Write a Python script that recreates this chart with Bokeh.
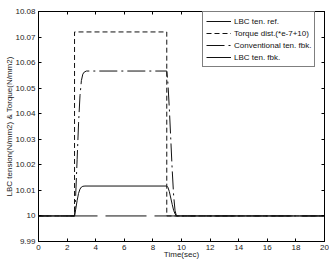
import math
from bokeh.plotting import figure
from bokeh.models import (Range1d, LinearAxis, FixedTicker, CustomJSTickFormatter,
                          Legend, LegendItem)
from bokeh.embed import file_html
from bokeh.resources import INLINE

# ---- data ----
x_ticks = [0, 2, 4, 6, 8, 10, 12, 14, 16, 18, 20]
y_ticks = [9.99, 10.0, 10.01, 10.02, 10.03, 10.04, 10.05, 10.06, 10.07, 10.08]

ref_t = [0, 20]
ref_v = [10.0, 10.0]

torque_t = [0, 2.52, 2.52, 8.97, 8.97, 20]
torque_v = [10.0, 10.0, 10.072, 10.072, 10.0, 10.0]

conv_t = [0, 2.52, 2.6, 2.7, 2.8, 2.9, 3.0, 3.1, 3.2, 3.35, 8.97, 9.05, 9.15,
          9.25, 9.35, 9.45, 9.55, 9.65, 20]
conv_v = [10.0, 10.0, 10.008, 10.022, 10.036, 10.047, 10.053, 10.0555, 10.0563,
          10.0567, 10.0567, 10.052, 10.042, 10.030, 10.018, 10.008, 10.002, 10.0, 10.0]

lbc_t = [0, 2.52, 2.6, 2.7, 2.8, 2.9, 3.0, 3.1, 3.25, 8.97, 9.05, 9.15, 9.25,
         9.35, 9.45, 9.55, 9.65, 20]
lbc_v = [10.0, 10.0, 10.0025, 10.006, 10.0088, 10.0105, 10.0113, 10.0116, 10.0117,
         10.0117, 10.0112, 10.0095, 10.007, 10.0045, 10.0022, 10.0008, 10.0, 10.0]

labels = ["LBC ten. ref.", "Torque dist.(*e-7+10)", "Conventional ten. fbk.", "LBC ten. fbk."]
x_label = "Time(sec)"
y_label = "LBC tension(N/mm2) & Torque(N/mm2)"

FONT = "Liberation Sans"
INK = "#111111"

p = figure(width=329, height=261, output_backend="svg", toolbar_location=None,
           x_range=Range1d(0, 20), y_range=Range1d(9.99, 10.08),
           x_axis_type=None, y_axis_type=None)
p.min_border_left = 38
p.min_border_right = 5
p.min_border_top = 11
p.min_border_bottom = 19
p.outline_line_color = "black"
p.xgrid.visible = False
p.ygrid.visible = False
p.background_fill_color = "white"
p.border_fill_color = "white"

fmt = CustomJSTickFormatter(code="return (Math.round(tick*100)/100).toString();")
blank = CustomJSTickFormatter(code="return '';")


def make_axis(ticks, formatter, show, label=None, standoff=0):
    ax = LinearAxis(ticker=FixedTicker(ticks=ticks), formatter=formatter)
    ax.major_tick_in = 3
    ax.major_tick_out = 0
    ax.minor_tick_in = 0
    ax.minor_tick_out = 0
    ax.axis_line_color = "black"
    ax.major_tick_line_color = "black"
    ax.major_label_text_font = FONT
    ax.major_label_text_font_size = "8px" if show else "0px"
    ax.major_label_text_color = "#222222"
    ax.major_label_standoff = 3 if show else 0
    if label:
        ax.axis_label = label
        ax.axis_label_text_font = FONT
        ax.axis_label_text_font_size = "8px"
        ax.axis_label_text_font_style = "normal"
        ax.axis_label_text_color = "#222222"
        ax.axis_label_standoff = standoff
    return ax


p.add_layout(make_axis(x_ticks, fmt, True, x_label, -3), "below")
p.add_layout(make_axis(y_ticks, fmt, True, y_label, -2), "left")
p.add_layout(make_axis(x_ticks, blank, False), "above")
p.add_layout(make_axis(y_ticks, blank, False), "right")

# lines
r_ref = p.line(ref_t, ref_v, line_color=INK, line_width=1,
               line_dash="41 8", line_dash_offset=31)
r_tq = p.line(torque_t, torque_v, line_color=INK, line_width=1, line_dash="5 3")
r_cv = p.line(conv_t, conv_v, line_color=INK, line_width=1, line_dash="18 4 2 4")
r_lb = p.line(lbc_t, lbc_v, line_color=INK, line_width=1)

# solid sample for the reference legend entry
r_ref_leg = p.line([float("nan")], [float("nan")], line_color=INK, line_width=1)

legend = Legend(items=[LegendItem(label=labels[0], renderers=[r_ref_leg]),
                       LegendItem(label=labels[1], renderers=[r_tq]),
                       LegendItem(label=labels[2], renderers=[r_cv]),
                       LegendItem(label=labels[3], renderers=[r_lb])],
                location=(164, 174))
legend.label_text_font = FONT
legend.label_text_font_size = "8px"
legend.label_text_color = "#111111"
legend.glyph_width = 25
legend.glyph_height = 12
legend.label_height = 12
legend.spacing = 0
legend.padding = 3
legend.margin = 0
legend.label_standoff = 3
legend.border_line_color = "black"
legend.border_line_width = 1
legend.background_fill_color = "white"
legend.background_fill_alpha = 1
p.add_layout(legend)

open("out.html", "w").write(file_html(p, INLINE))
